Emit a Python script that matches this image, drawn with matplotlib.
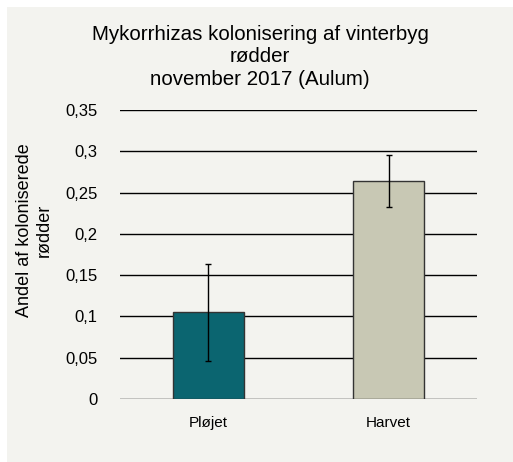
import matplotlib
matplotlib.use("Agg")
import matplotlib.pyplot as plt
from matplotlib.patches import Rectangle

categories = ["Pløjet", "Harvet"]
values = [0.105, 0.264]
errors = [0.059, 0.031]
bar_colors = ["#0b6570", "#c8c8b4"]
y_ticks = [0, 0.05, 0.1, 0.15, 0.2, 0.25, 0.3, 0.35]
y_tick_labels = ["0", "0,05", "0,1", "0,15", "0,2", "0,25", "0,3", "0,35"]
title = "Mykorrhizas kolonisering af vinterbyg\nrødder\nnovember 2017 (Aulum)"
y_label = "Andel af koloniserede\nrødder"

BG = "#f3f3ef"
W, H = 513, 462

plt.rcParams["font.family"] = ["Liberation Sans", "DejaVu Sans"]

fig = plt.figure(figsize=(W / 100, H / 100), dpi=100, facecolor="white")
fig.patches.append(Rectangle((7 / W, 0), 1 - 7 / W, 1 - 7 / H,
                             transform=fig.transFigure, facecolor=BG,
                             edgecolor="none", zorder=-10))

ax = fig.add_axes([120 / W, 1 - 399 / H, 357 / W, 289 / H])
ax.patch.set_alpha(0)

x = list(range(len(categories)))
ax.bar(x, values, width=0.394, color=bar_colors, edgecolor="#333333",
       linewidth=1.0, zorder=3)
ax.errorbar(x, values, yerr=errors, fmt="none", ecolor="black",
            elinewidth=1.0, capsize=2.3, capthick=1.0, zorder=4)

ax.set_xlim(-0.49, 1.49)
ax.set_ylim(0, 0.35)
ax.set_yticks(y_ticks)
ax.set_yticklabels(y_tick_labels)
ax.set_xticks(x)
ax.set_xticklabels(categories)
ax.yaxis.grid(True, color="black", linewidth=1.0, zorder=1)
ax.set_axisbelow(True)
ax.tick_params(axis="y", length=0, pad=16, labelsize=12)
ax.tick_params(axis="x", length=0, pad=12, labelsize=11)
for side in ["top", "right", "left", "bottom"]:
    ax.spines[side].set_visible(False)

fig.text(260 / W, 1 - 57 / H, title, ha="center", va="center",
         fontsize=14.75, linespacing=1.25)
fig.text(34 / W, 1 - 230 / H, y_label, ha="center", va="center",
         rotation=90, fontsize=13, linespacing=1.2)

fig.savefig("out.png", dpi=100, facecolor="white")
